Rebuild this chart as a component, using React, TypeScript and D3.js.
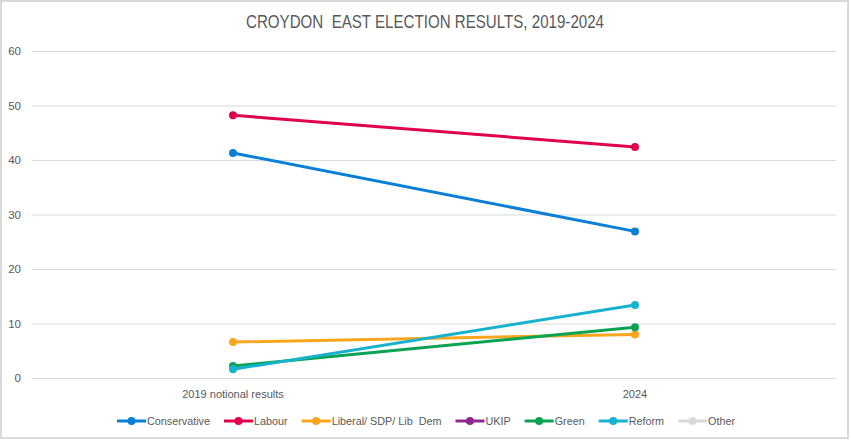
import * as d3 from 'd3';
import { useEffect, useRef } from 'react';

const categories = ['2019 notional results', '2024'];
const seriesNames = ['Conservative', 'Labour', 'Liberal/ SDP/ Lib  Dem', 'UKIP', 'Green', 'Reform', 'Other'];
const seriesColors = ['#0A7FD6', '#E0004D', '#F9A61F', '#8E2A8E', '#0AA353', '#17B3CE', '#D9D9D9'];
// null = no data for that party
const conservative = [41.3, 26.9];
const labour = [48.2, 42.4];
const libDem = [6.6, 8.0];
const ukip: (number | null)[] = [null, null];
const green = [2.2, 9.3];
const reform = [1.6, 13.4];
const other: (number | null)[] = [null, null];
const yTicks = [0, 10, 20, 30, 40, 50, 60];
const title = 'CROYDON  EAST ELECTION RESULTS, 2019-2024';

const W = 851;
const H = 441;
const FONT = '"Liberation Sans", Arial, sans-serif';

const App = () => {
    const ref = useRef<SVGSVGElement>(null);

    useEffect(() => {
        document.body.style.margin = '0';
        const svg = d3.select(ref.current);
        svg.selectAll('*').remove();

        const series = [conservative, labour, libDem, ukip, green, reform, other];
        const margin = { top: 51, right: 15, bottom: 63, left: 32 };

        svg.append('rect')
            .attr('x', 1).attr('y', 1)
            .attr('width', W - 4).attr('height', H - 4)
            .attr('fill', '#fff')
            .attr('stroke', '#d9d9d9')
            .attr('stroke-width', 2);

        const x = d3.scaleBand()
            .domain(categories)
            .range([margin.left, W - margin.right]);

        const y = d3.scaleLinear()
            .domain([0, 60])
            .range([H - margin.bottom, margin.top]);

        // gridlines
        svg.append('g')
            .selectAll('line')
            .data(yTicks)
            .join('line')
            .attr('x1', margin.left)
            .attr('x2', W - margin.right)
            .attr('y1', d => y(d) + 0.5)
            .attr('y2', d => y(d) + 0.5)
            .attr('stroke', '#d9d9d9')
            .attr('stroke-width', 1);

        // y labels
        svg.append('g')
            .selectAll('text')
            .data(yTicks)
            .join('text')
            .attr('x', 21)
            .attr('y', d => y(d))
            .attr('dy', '0.35em')
            .attr('text-anchor', 'end')
            .attr('font-family', FONT)
            .attr('font-size', 11.5)
            .attr('fill', '#595959')
            .text(d => d);

        // x labels
        svg.append('g')
            .selectAll('text')
            .data(categories)
            .join('text')
            .attr('x', d => x(d)! + x.bandwidth() / 2)
            .attr('y', H - margin.bottom + 16)
            .attr('dy', '0.35em')
            .attr('text-anchor', 'middle')
            .attr('font-family', FONT)
            .attr('font-size', 11)
            .attr('fill', '#595959')
            .text(d => d);

        const cx = (i: number) => x(categories[i])! + x.bandwidth() / 2;

        const line = d3.line<number | null>()
            .defined(d => d !== null)
            .x((_, i) => cx(i))
            .y(d => y(d as number));

        series.forEach((vals, s) => {
            const g = svg.append('g');
            g.append('path')
                .datum(vals)
                .attr('fill', 'none')
                .attr('stroke', seriesColors[s])
                .attr('stroke-width', 3)
                .attr('stroke-linecap', 'round')
                .attr('d', line);
            g.selectAll('circle')
                .data(vals.map((v, i) => ({ v, i })).filter(d => d.v !== null))
                .join('circle')
                .attr('cx', d => cx(d.i))
                .attr('cy', d => y(d.v as number))
                .attr('r', 4)
                .attr('fill', seriesColors[s]);
        });

        // title (narrow face, squeezed to the reference width)
        svg.append('text')
            .attr('x', 425)
            .attr('y', 27.5)
            .attr('text-anchor', 'middle')
            .attr('font-family', FONT)
            .attr('font-size', 17.5)
            .attr('textLength', 358)
            .attr('lengthAdjust', 'spacingAndGlyphs')
            .attr('fill', '#595959')
            .style('white-space', 'pre')
            .text(title);

        // legend
        const legend = svg.append('g');
        const items = seriesNames.map((name, i) => {
            const item = legend.append('g');
            item.append('line')
                .attr('x1', 0).attr('x2', 29)
                .attr('y1', 0).attr('y2', 0)
                .attr('stroke', seriesColors[i])
                .attr('stroke-width', 3);
            item.append('circle')
                .attr('cx', 14.5).attr('cy', 0).attr('r', 4)
                .attr('fill', seriesColors[i]);
            const t = item.append('text')
                .attr('x', 30)
                .attr('dy', '0.35em')
                .attr('font-family', FONT)
                .attr('font-size', 10.8)
                .attr('fill', '#595959')
                .style('white-space', 'pre')
                .text(name);
            const w = 30 + (t.node() as SVGTextElement).getComputedTextLength();
            return { item, w };
        });
        const gap = 14;
        let lx = 117;
        items.forEach(({ item, w }) => {
            item.attr('transform', `translate(${lx},421)`);
            lx += w + gap;
        });
    }, []);

    return <svg ref={ref} width={W} height={H} style={{ display: 'block' }} />;
};

export default App;
